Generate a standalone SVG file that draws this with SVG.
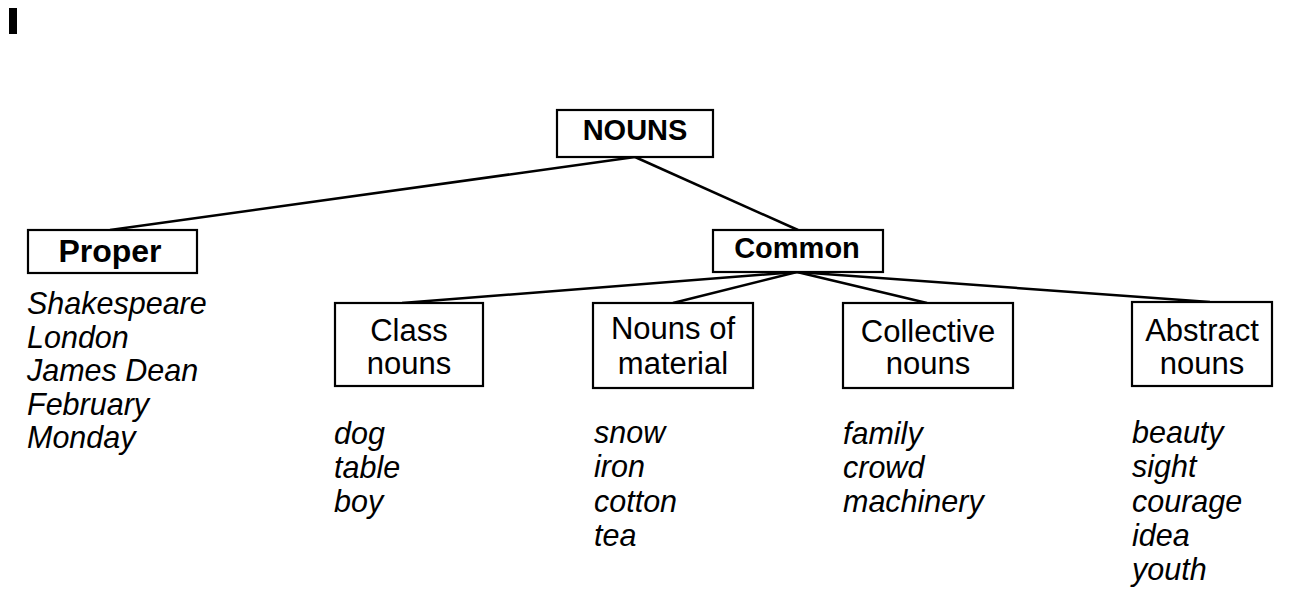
<svg xmlns="http://www.w3.org/2000/svg" width="1306" height="589" viewBox="0 0 1306 589">
<style>
.box{fill:#fff;stroke:#000;stroke-width:2.2}
.b{font-family:"Liberation Sans",Arial,sans-serif;font-weight:bold;font-size:29px;fill:#000;text-anchor:middle}
.r{font-family:"Liberation Sans",Arial,sans-serif;font-size:31px;fill:#000;text-anchor:middle}
.i{font-family:"Liberation Sans",Arial,sans-serif;font-style:italic;font-size:30.5px;fill:#000}
.ln{stroke:#000;stroke-width:2.5;fill:none}
</style>
<rect x="9" y="8" width="8" height="26" fill="#000"/>
<g id="connectors">
<line class="ln" x1="635" y1="157" x2="110" y2="230"/>
<line class="ln" x1="635" y1="157" x2="798" y2="230"/>
<line class="ln" x1="797" y1="272" x2="402" y2="303"/>
<line class="ln" x1="797" y1="272" x2="673" y2="303"/>
<line class="ln" x1="797" y1="272" x2="927" y2="303"/>
<line class="ln" x1="797" y1="272" x2="1210" y2="302"/>
</g>
<g id="nouns"><rect class="box" x="557" y="110" width="156" height="47"/><text class="b" x="635" y="140">NOUNS</text></g>
<g id="proper"><rect class="box" x="28" y="230" width="169" height="43"/><text class="b" x="110" y="262" style="font-size:32px">Proper</text></g>
<g id="common"><rect class="box" x="713" y="230" width="170" height="42"/><text class="b" x="797" y="258">Common</text></g>
<g id="class"><rect class="box" x="335" y="303" width="148" height="83"/><text class="r" x="409" y="341">Class</text><text class="r" x="409" y="374">nouns</text></g>
<g id="material"><rect class="box" x="593" y="303" width="160" height="85"/><text class="r" x="673" y="339">Nouns of</text><text class="r" x="673" y="374">material</text></g>
<g id="collective"><rect class="box" x="843" y="303" width="170" height="85"/><text class="r" x="928" y="342">Collective</text><text class="r" x="928" y="374">nouns</text></g>
<g id="abstract"><rect class="box" x="1132" y="302" width="140" height="84"/><text class="r" x="1202" y="341">Abstract</text><text class="r" x="1202" y="374">nouns</text></g>
<g id="proper-list">
<text class="i" x="27" y="314">Shakespeare</text>
<text class="i" x="27" y="348">London</text>
<text class="i" x="27" y="381">James Dean</text>
<text class="i" x="27" y="415">February</text>
<text class="i" x="27" y="448">Monday</text>
</g>
<g id="class-list">
<text class="i" x="334" y="444">dog</text>
<text class="i" x="334" y="478">table</text>
<text class="i" x="334" y="512">boy</text>
</g>
<g id="material-list">
<text class="i" x="594" y="443">snow</text>
<text class="i" x="594" y="477">iron</text>
<text class="i" x="594" y="512">cotton</text>
<text class="i" x="594" y="546">tea</text>
</g>
<g id="collective-list">
<text class="i" x="843" y="444">family</text>
<text class="i" x="843" y="478">crowd</text>
<text class="i" x="843" y="512">machinery</text>
</g>
<g id="abstract-list">
<text class="i" x="1132" y="443">beauty</text>
<text class="i" x="1132" y="477">sight</text>
<text class="i" x="1132" y="512">courage</text>
<text class="i" x="1132" y="546">idea</text>
<text class="i" x="1132" y="580">youth</text>
</g>
</svg>
